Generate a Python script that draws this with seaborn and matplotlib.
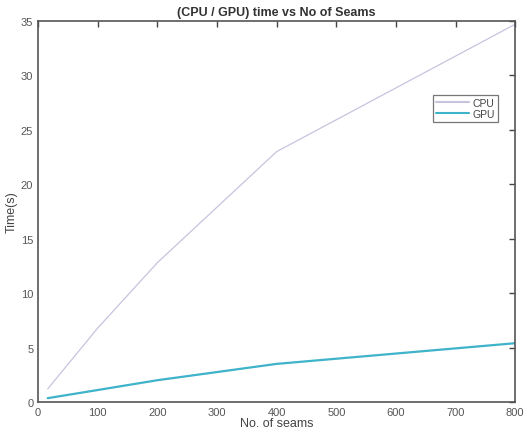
import pandas as pd
import seaborn as sns
import matplotlib.pyplot as plt

# values
seams = [16, 100, 200, 400, 800]
cpu_time = [1.2, 6.8, 12.8, 23.0, 34.7]
gpu_time = [0.35, 1.1, 2.0, 3.5, 5.4]

df = pd.DataFrame({'seams': seams * 2,
                   'time': cpu_time + gpu_time,
                   'device': ['CPU'] * len(seams) + ['GPU'] * len(seams)})

sns.set_style('white')
plt.rcParams['font.family'] = ['Liberation Sans', 'DejaVu Sans']

fig, ax = plt.subplots(figsize=(5.3, 4.31), dpi=100)
sns.lineplot(data=df, x='seams', y='time', hue='device',
             palette={'CPU': '#c9c2de', 'GPU': '#3fb3c9'}, ax=ax)
ax.lines[0].set_linewidth(0.9)
ax.lines[1].set_linewidth(1.6)

ax.set_xlim(0, 800)
ax.set_ylim(0, 35)
ax.set_xticks(range(0, 801, 100))
ax.set_yticks(range(0, 36, 5))
ax.tick_params(direction='in', length=4, width=1, colors='#444444',
               top=True, right=True, labelsize=8, labelcolor='#555555')
for s in ax.spines.values():
    s.set_color('#555555')
    s.set_linewidth(1.2)

ax.set_xlabel('No. of seams', fontsize=9, color='#444444', labelpad=0)
ax.set_ylabel('Time(s)', fontsize=9, color='#444444', labelpad=2)
ax.set_title('(CPU / GPU) time vs No of Seams', fontsize=9, fontweight='bold',
             color='#333333', pad=4)

leg = ax.legend(loc='upper right', bbox_to_anchor=(0.975, 0.82), fontsize=7.5,
                frameon=True, fancybox=False, handlelength=3.2,
                borderpad=0.3, labelspacing=0.1, handletextpad=0.3)
leg.get_frame().set_edgecolor('#555555')
leg.get_frame().set_linewidth(0.9)
for t in leg.get_texts():
    t.set_color('#444444')

fig.subplots_adjust(left=0.072, right=0.972, top=0.949, bottom=0.065)
fig.savefig('out.png', dpi=100)
